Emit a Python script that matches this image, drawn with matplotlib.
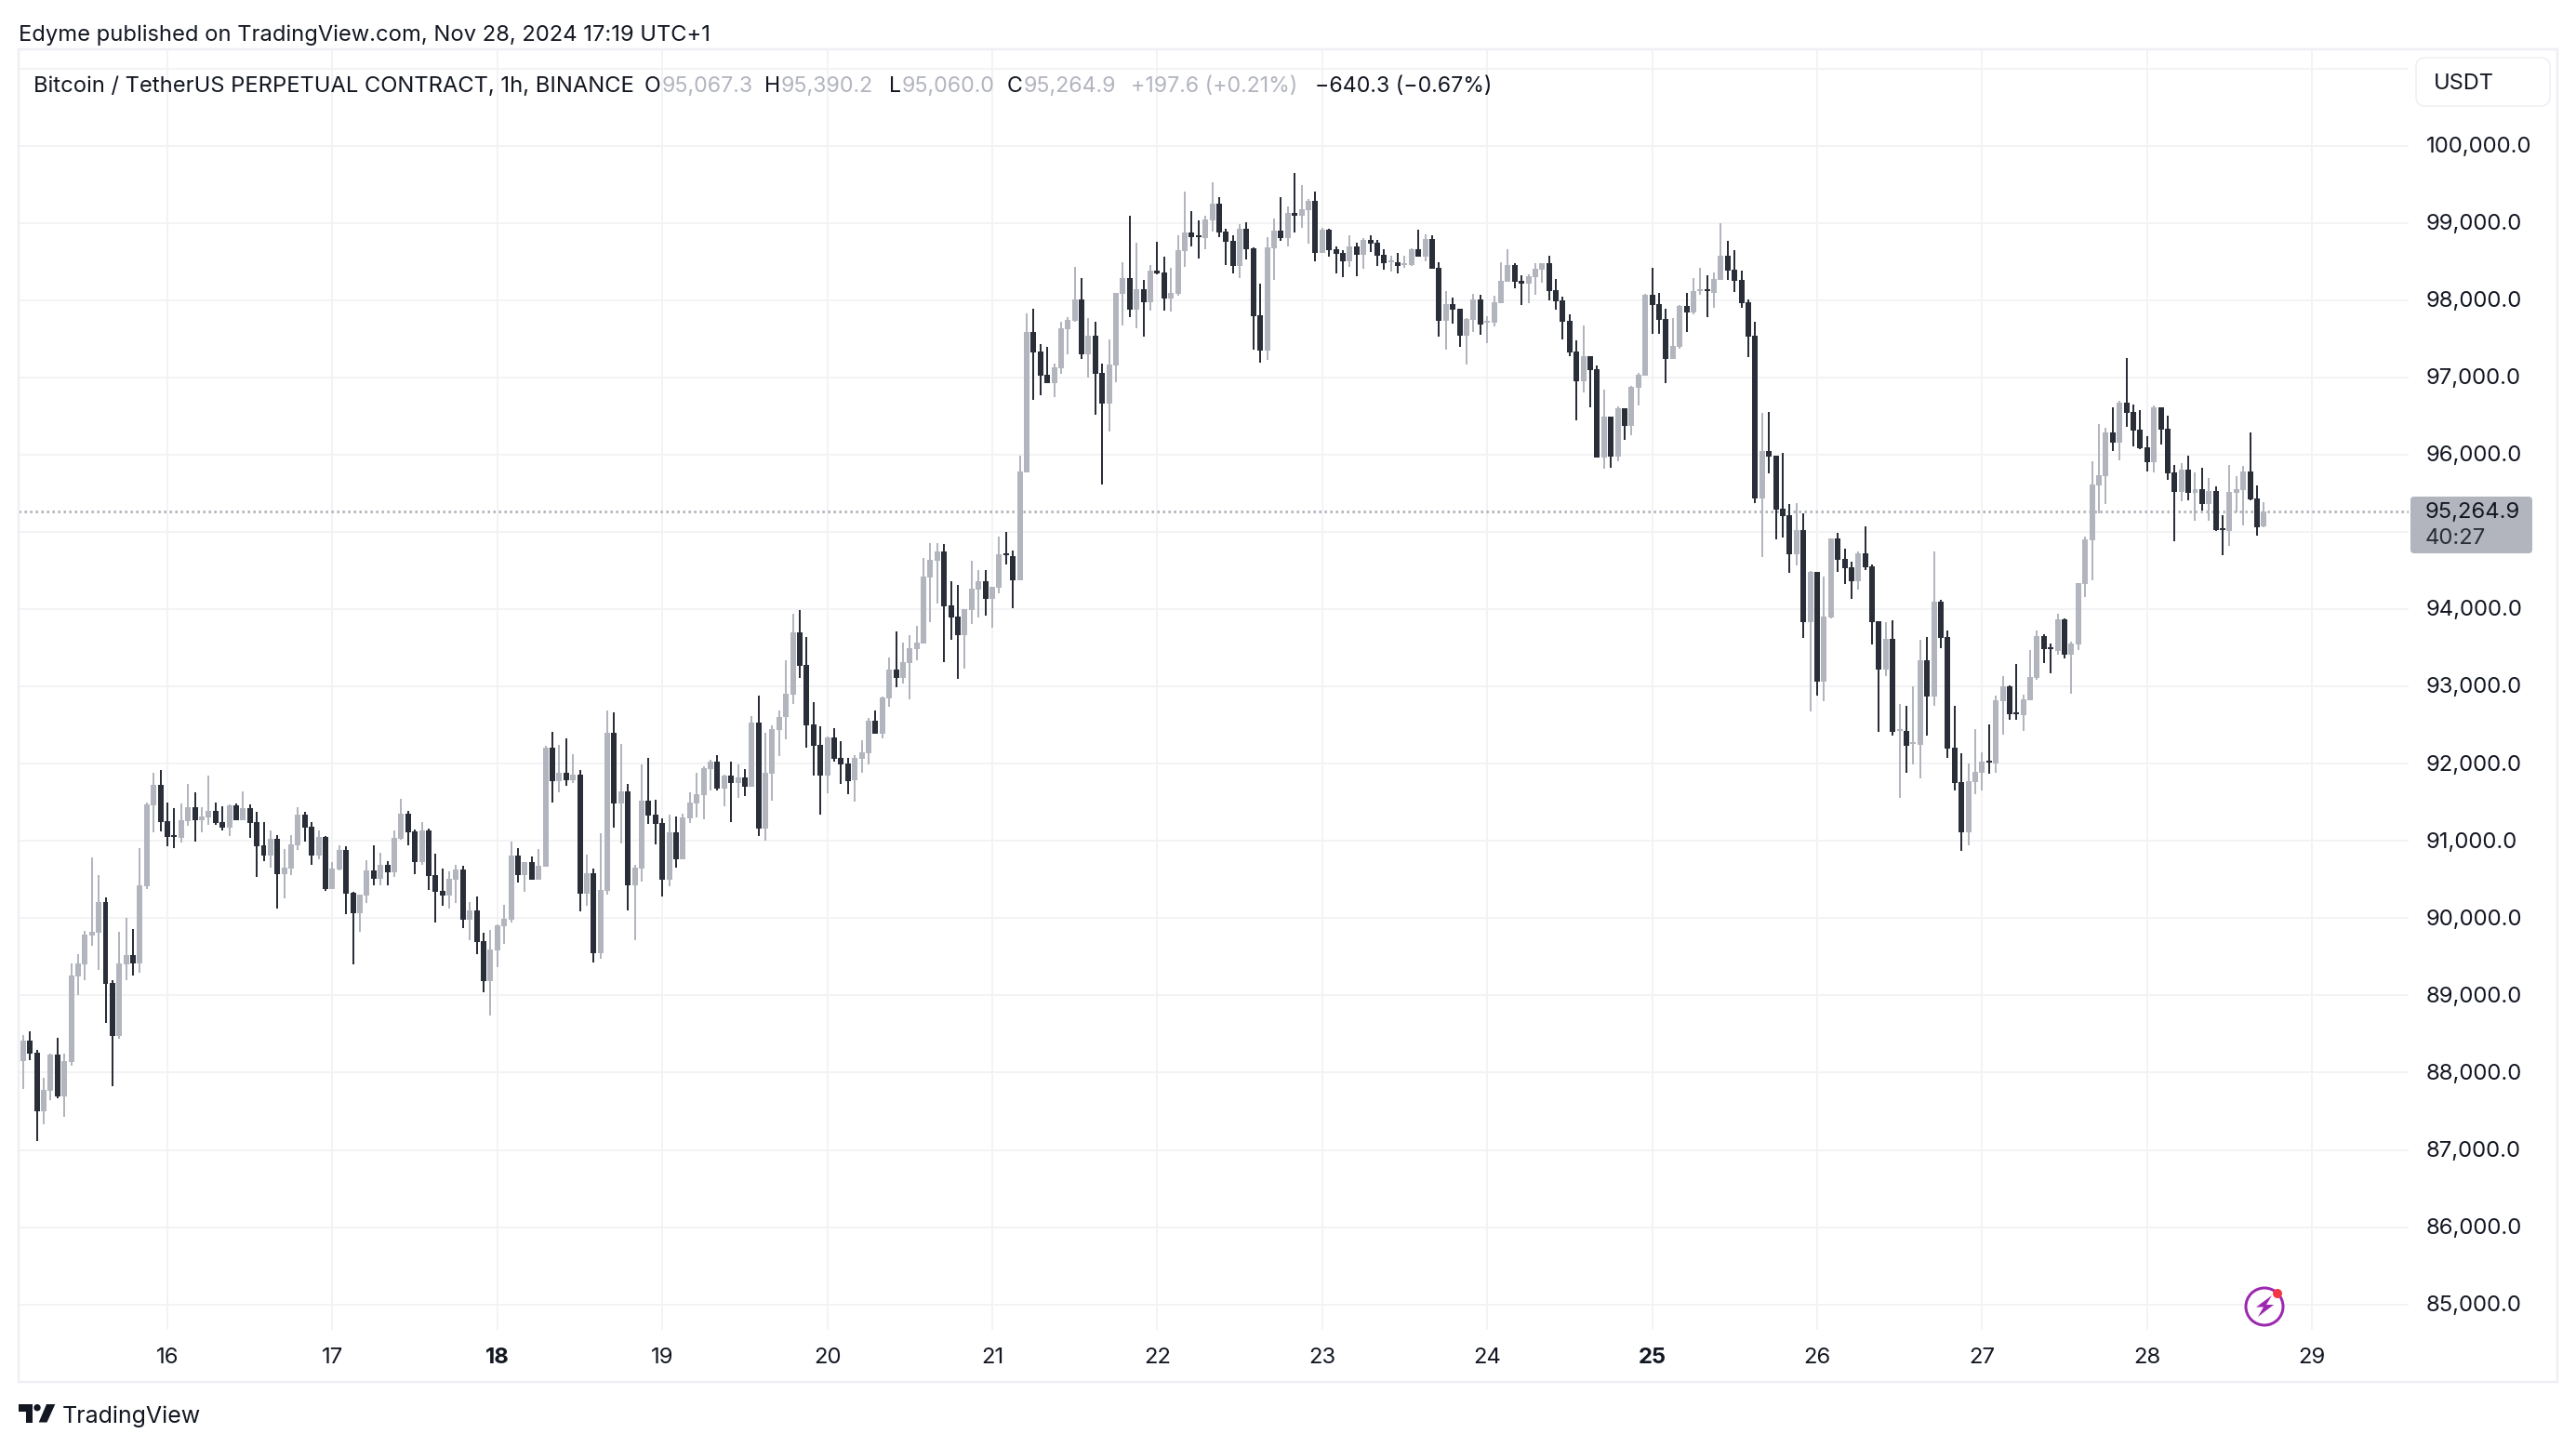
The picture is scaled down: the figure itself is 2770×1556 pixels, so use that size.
"""
BTCUSDT 1h candles, TradingView snapshot look.
All prices read by eye from the picture. First candle is 21 hours before the 16th.
"""
import matplotlib
matplotlib.use("Agg")
import matplotlib.pyplot as plt
import numpy as np
from matplotlib.patches import Circle, FancyBboxPatch, Polygon, Rectangle
from matplotlib.transforms import Affine2D

FIRST_HOUR = -21

opens = [
    88150, 88411, 88254, 87497, 87761, 88230, 87689, 88134, 89241, 89397, 89770, 89806, 90203, 89157, 88471, 89397, 89518, 89409, 90408, 91466, 91731,
    91262, 91081, 91045, 91262, 91442, 91274, 91310, 91394, 91238, 91166, 91466, 91274, 91430, 91238, 90949, 90805, 91033, 90564, 90648, 90949, 91346, 91178, 90805, 91057,
    90372, 90636, 90877, 90324, 90059, 90287, 90624, 90504, 90696, 90588, 91033, 91358, 91129, 90732, 91141, 90552, 90359, 90287, 90492, 90636, 89974, 90095, 89698, 89181,
    89577, 89890, 89974, 90805, 90552, 90732, 90492, 90672, 92212, 91779, 91887, 91791, 91863, 90323, 90576, 89541, 90359, 92405, 91490, 91647, 90420, 90648, 91526, 91346,
    91226, 90492, 91117, 90768, 91298, 91490, 91599, 91935, 92032, 91683, 91851, 91755, 91827, 91707, 92537, 91165, 91875, 92441, 92602, 92890, 93696, 93275, 92505, 92241,
    91844, 92337, 92072, 92000, 91784, 92060, 92132, 92554, 92385, 92842, 93215, 93107, 93299, 93480, 93552, 94406, 94623, 94743, 94045, 93901, 93660, 93985, 94250, 94358,
    94129, 94274, 94719, 94683, 94370, 95776, 97592, 97340, 97039, 96931, 97123, 97628, 97737, 98013, 97304, 97544, 97063, 96666, 97159, 98086, 98290, 97881, 98146, 97977,
    98386, 98362, 98025, 98086, 98639, 98880, 98843, 98807, 99036, 99253, 98892, 98771, 98447, 98928, 98675, 97809, 97352, 98675, 98904, 98807, 99132, 99096, 99168, 99289,
    98615, 98916, 98663, 98615, 98507, 98699, 98591, 98783, 98747, 98591, 98487, 98495, 98459, 98459, 98664, 98567, 98796, 98423, 97737, 97954, 97894, 97545, 97749, 98014,
    97713, 97713, 97966, 98242, 98459, 98255, 98218, 98303, 98399, 98483, 98134, 98002, 97737, 97340, 96955, 97280, 97112, 95969, 96498, 95981, 96606, 96378, 96871, 97028,
    98074, 97954, 97761, 97244, 97400, 97930, 97846, 98122, 98146, 98098, 98267, 98579, 98399, 98267, 97978, 97545, 95434, 96048, 95988, 95302, 95218, 94712, 95025, 93834,
    94484, 93064, 93894, 94917, 94652, 94544, 94364, 94725, 94556, 93846, 93221, 93618, 92419, 92427, 92250, 92246, 93341, 92872, 94099, 93642, 92210, 91765, 91116, 91765,
    91885, 92042, 92006, 92812, 93004, 92667, 92631, 92824, 93113, 93654, 93509, 93461, 93870, 93413, 93546, 94328, 94895, 95604, 95725, 96290, 96158, 96675, 96555, 96326,
    96098, 95905, 96615, 96338, 95773, 95520, 95809, 95508, 95556, 95364, 95532, 95051, 95015, 95508, 95544, 95785, 95436, 95067.3,
]

highs = [
    88491, 88539, 88290, 87930, 88242, 88447, 88242, 89409, 89530, 89830, 90781, 90552, 90263, 89193, 89818, 90000, 89854, 90901, 91502, 91887, 91924,
    91502, 91430, 91490, 91743, 91635, 91442, 91851, 91502, 91454, 91478, 91490, 91647, 91478, 91382, 91250, 91130, 91081, 90889, 91081, 91442, 91382, 91250, 91130, 91069,
    90721, 90949, 90937, 90336, 90300, 90745, 90949, 90841, 90733, 91130, 91539, 91394, 91153, 91250, 91165, 90829, 90648, 90600, 90696, 90684, 90203, 90275, 89806, 89842,
    89914, 90167, 90997, 90901, 90732, 90793, 90889, 92236, 92417, 92248, 92332, 92128, 91923, 90817, 90648, 91105, 92693, 92669, 92260, 91743, 90696, 91995, 92080, 91538,
    91298, 91346, 91322, 91358, 91635, 91887, 91971, 92056, 92116, 91863, 92032, 91995, 91935, 92621, 92886, 92405, 92501, 92693, 93335, 93937, 93985, 93636, 92794, 92481,
    92349, 92457, 92289, 92072, 92108, 92301, 92590, 92686, 92866, 93372, 93708, 93564, 93660, 93781, 94659, 94851, 94851, 94839, 94358, 94310, 93997, 94623, 94502, 94502,
    94286, 94935, 94996, 94755, 95992, 97833, 97893, 97436, 97400, 97183, 97725, 97785, 98434, 98290, 97773, 97725, 97183, 97496, 98098, 98495, 99096, 98747, 98266, 98459,
    98759, 98567, 98422, 98843, 99409, 99156, 99036, 99096, 99529, 99337, 98928, 98843, 98988, 99012, 98687, 98218, 98819, 99060, 99337, 99216, 99650, 99493, 99313, 99409,
    98940, 98928, 98699, 98651, 98843, 98747, 98807, 98843, 98783, 98664, 98579, 98615, 98579, 98676, 98916, 98856, 98844, 98495, 98122, 98038, 97894, 97773, 98086, 98074,
    97797, 98062, 98495, 98664, 98483, 98327, 98339, 98483, 98483, 98579, 98279, 98050, 97821, 97485, 97677, 97280, 97160, 96847, 96498, 96630, 96606, 96895, 97064, 98086,
    98423, 98098, 97894, 97773, 97942, 98098, 98291, 98423, 98327, 98363, 99000, 98772, 98652, 98387, 98014, 97725, 96546, 96553, 95988, 96024, 95362, 95374, 95242, 94496,
    94484, 94424, 94917, 94989, 94785, 94616, 94749, 95073, 94580, 93846, 93834, 93858, 92776, 92752, 93004, 93606, 93642, 94749, 94123, 93726, 92752, 92138, 92006, 92451,
    92150, 92511, 92884, 93137, 93016, 93293, 92896, 93473, 93726, 93678, 93558, 93943, 93882, 93582, 94340, 94941, 95917, 96398, 96350, 96615, 96699, 97253, 96651, 96579,
    96242, 96639, 96615, 96507, 95869, 95893, 95989, 95773, 95833, 95701, 95592, 95219, 95869, 95725, 95857, 96290, 95604, 95390.2,
]

lows = [
    87789, 88162, 87116, 87332, 87641, 87665, 87424, 88090, 89000, 89193, 89638, 89325, 88639, 87825, 88435, 89193, 89253, 89289, 90372, 91106, 91118,
    90925, 90901, 90985, 91190, 90997, 91106, 91202, 91202, 91130, 91069, 91274, 91274, 91045, 90528, 90733, 90660, 90119, 90251, 90552, 90877, 90997, 90696, 90757, 90348,
    90372, 90624, 90047, 89397, 89818, 90191, 90420, 90420, 90420, 90528, 91021, 90949, 90564, 90696, 90371, 89938, 90155, 90119, 90191, 89866, 89710, 89529, 89036, 88735,
    89361, 89662, 89938, 90456, 90347, 90492, 90492, 90672, 91502, 91635, 91719, 91755, 90083, 90155, 89421, 89469, 90299, 91177, 90973, 90095, 89710, 90468, 91214, 90961,
    90275, 90408, 90660, 90768, 91226, 91310, 91286, 91659, 91659, 91454, 91250, 91562, 91587, 91707, 91069, 91009, 91526, 92104, 92313, 92770, 93107, 92205, 91844, 91338,
    91615, 92024, 91735, 91603, 91507, 91880, 91988, 92385, 92325, 92734, 92987, 93035, 92830, 93335, 93552, 93829, 94069, 93311, 93600, 93095, 93227, 93805, 93889, 93913,
    93757, 94202, 94575, 94009, 94370, 95776, 96714, 96774, 96931, 96750, 97051, 97304, 97725, 97244, 97003, 96522, 95619, 96305, 96943, 97677, 97785, 97641, 97532, 97869,
    98338, 97869, 97857, 98062, 98434, 98699, 98543, 98663, 98892, 98819, 98459, 98350, 98290, 98531, 97364, 97195, 97231, 98266, 98771, 98699, 98880, 98940, 98735, 98507,
    98615, 98567, 98350, 98302, 98434, 98314, 98410, 98627, 98447, 98399, 98375, 98351, 98423, 98447, 98567, 98507, 98411, 97533, 97364, 97701, 97400, 97172, 97593, 97557,
    97449, 97665, 97966, 98242, 98158, 97942, 97966, 98074, 98230, 98002, 97882, 97497, 97280, 96450, 96811, 96618, 95969, 95824, 95836, 95909, 96197, 96258, 96643, 97028,
    97569, 97569, 96931, 97244, 97376, 97593, 97821, 98074, 97785, 97906, 98267, 98267, 98110, 97906, 97268, 95374, 94676, 95759, 94905, 94929, 94472, 94568, 93630, 92679,
    92884, 92812, 93882, 94484, 94328, 94135, 94255, 94508, 93546, 92415, 93137, 92367, 91561, 91885, 91994, 91813, 92367, 92752, 93497, 92078, 91657, 90875, 90947, 91609,
    91657, 91873, 91885, 92379, 92571, 92571, 92427, 92824, 93088, 93305, 93173, 93413, 93365, 92908, 93473, 94159, 94377, 95244, 95364, 96050, 95929, 96362, 96110, 96074,
    95785, 95773, 96134, 95677, 94883, 95400, 95412, 95147, 95280, 95147, 95015, 94702, 94822, 95255, 95087, 95412, 94955, 95060.0,
]

closes = [
    88411, 88242, 87497, 87773, 88230, 87689, 88146, 89253, 89409, 89782, 89818, 90203, 89145, 88471, 89409, 89518, 89409, 90420, 91478, 91731, 91250,
    91057, 91057, 91274, 91442, 91274, 91322, 91394, 91226, 91166, 91466, 91274, 91430, 91226, 90937, 90805, 91033, 90564, 90660, 90961, 91346, 91166, 90805, 91057, 90372,
    90648, 90877, 90312, 90059, 90300, 90624, 90504, 90696, 90588, 91045, 91358, 91117, 90732, 91141, 90540, 90347, 90287, 90504, 90636, 89974, 90095, 89686, 89181, 89590,
    89902, 89987, 90805, 90552, 90732, 90492, 90684, 92212, 91779, 91887, 91791, 91863, 90323, 90576, 89541, 90371, 92405, 91490, 91647, 90420, 90660, 91526, 91334, 91214,
    90492, 91117, 90768, 91310, 91502, 91611, 91947, 92032, 91683, 91851, 91755, 91827, 91707, 92537, 91165, 91887, 92453, 92609, 92902, 93696, 93263, 92493, 92229, 91844,
    92337, 92060, 91988, 91772, 92072, 92144, 92554, 92385, 92854, 93215, 93107, 93311, 93492, 93564, 94418, 94635, 94743, 94033, 93889, 93660, 93997, 94262, 94358, 94129,
    94286, 94707, 94695, 94370, 95788, 97592, 97328, 97027, 96931, 97135, 97641, 97749, 98013, 97304, 97544, 97051, 96666, 97171, 98098, 98290, 97881, 98146, 97977, 98386,
    98350, 98025, 98098, 98651, 98880, 98819, 98819, 99048, 99253, 98880, 98759, 98447, 98928, 98663, 97797, 97352, 98687, 98904, 98807, 99132, 99096, 99180, 99289, 98615,
    98916, 98651, 98603, 98507, 98699, 98591, 98783, 98735, 98579, 98483, 98507, 98447, 98483, 98664, 98567, 98796, 98411, 97737, 97954, 97882, 97545, 97761, 98014, 97689,
    97737, 97978, 98255, 98459, 98242, 98218, 98315, 98411, 98483, 98122, 97990, 97725, 97328, 96955, 97280, 97100, 95969, 96498, 95981, 96606, 96378, 96883, 97040, 98074,
    97942, 97749, 97244, 97412, 97930, 97846, 98122, 98146, 98122, 98279, 98579, 98387, 98255, 97966, 97533, 95434, 96048, 95976, 95290, 95206, 94712, 95025, 93834, 94484,
    93064, 93906, 94917, 94640, 94532, 94364, 94725, 94544, 93834, 93221, 93618, 92415, 92439, 92234, 92270, 93341, 92872, 94099, 93630, 92198, 91753, 91116, 91777, 91897,
    92030, 92018, 92824, 93004, 92643, 92643, 92836, 93125, 93654, 93485, 93485, 93870, 93413, 93558, 94340, 94905, 95616, 95737, 96290, 96158, 96675, 96543, 96314, 96086,
    95905, 96615, 96326, 95761, 95520, 95809, 95508, 95556, 95364, 95532, 95027, 95027, 95520, 95556, 95785, 95424, 95063, 95264.9,
]

day_labels = ["16", "17", "18", "19", "20", "21", "22", "23", "24", "25", "26", "27", "28", "29"]
bold_days = ["18", "25"]
price_ticks = [85000, 86000, 87000, 88000, 89000, 90000, 91000, 92000, 93000, 94000,
               95000, 96000, 97000, 98000, 99000, 100000]
extra_grid_price = 101000
last_price = 95264.9

W, H = 2770, 1556
TEXT = "#131722"
GRID = "#F3F3F5"
FRAME = "#EFEFF4"
GREY = "#B2B5BE"
DARK = "#2A2E39"
PX = 0.72  # 1 pixel in points at dpi 100

plt.rcParams["font.family"] = ["Inter", "DejaVu Sans"]

fig = plt.figure(figsize=(W / 100, H / 100), dpi=100, facecolor="white")

# price pane, pixel box 20..2590 x 53..1430
ax = fig.add_axes([20 / W, 1 - 1430 / H, 2570 / W, 1377 / H])
ax.set_xlim(-21.65, 326.05)
ax.set_ylim(84671, 101248)
for s in ax.spines.values():
    s.set_visible(False)

o = np.array(opens)
c = np.array(closes)
hi = np.array(highs)
lo = np.array(lows)
hours = np.arange(FIRST_HOUR, FIRST_HOUR + len(o))
up = c >= o
colors = np.where(up, GREY, DARK)

day_hours = np.arange(len(day_labels)) * 24
ax.set_xticks(day_hours)
ax.set_xticklabels(day_labels, fontsize=17.2, color=TEXT)
for lab in ax.get_xticklabels():
    if lab.get_text() in bold_days:
        lab.set_fontweight("bold")
ax.yaxis.tick_right()
ax.set_yticks(price_ticks)
ax.set_yticklabels([f"{p:,.1f}" for p in price_ticks], fontsize=17.2, color=TEXT)
ax.tick_params(axis="both", length=0)
ax.tick_params(axis="x", pad=14)
ax.tick_params(axis="y", pad=13.5)
# labels sit about a pixel high of the grid line
for tick in ax.yaxis.get_major_ticks():
    tick.label2.set_transform(tick.label2.get_transform() + Affine2D().translate(0, 1.2))

ax.grid(True, color=GRID, linewidth=2 * PX, zorder=0)
ax.set_axisbelow(True)
ax.axhline(extra_grid_price, color=GRID, linewidth=2 * PX, zorder=0)

ax.axhline(last_price, color=GREY, linewidth=3 * PX, linestyle=(0, (0.8, 1.2)), zorder=1)

# wicks then bodies, doji still get a 2px body
ax.vlines(hours, lo, hi, colors=colors, linewidth=2 * PX, zorder=2)
body_low = np.minimum(o, c)
body_h = np.maximum(np.abs(c - o), 24)
ax.bar(hours, body_h, bottom=body_low, width=0.81, color=colors, linewidth=0, zorder=3)

# everything around the pane sits on a pixel overlay
ov = fig.add_axes([0, 0, 1, 1], facecolor="none", zorder=5)
ov.set_xlim(0, W)
ov.set_ylim(H, 0)
ov.axis("off")

ov.add_patch(Rectangle((20, 53), 2730, 1433, fill=False, edgecolor=FRAME, linewidth=2.5 * PX))

ov.text(20, 38, "Edyme published on TradingView.com, Nov 28, 2024 17:19 UTC+1",
        fontsize=17.1, color=TEXT, va="center", ha="left")

ov.text(36, 92.5, "Bitcoin / TetherUS PERPETUAL CONTRACT, 1h, BINANCE",
        fontsize=17.1, color=TEXT, va="center", ha="left")
legend_parts = [
    (693, "O", TEXT), (712, "95,067.3", GREY),
    (822, "H", TEXT), (840, "95,390.2", GREY),
    (956, "L", TEXT), (970, "95,060.0", GREY),
    (1083, "C", TEXT), (1101, "95,264.9", GREY),
    (1216, "+197.6 (+0.21%)", GREY),
    (1414, "\u2212640.3 (\u22120.67%)", TEXT),
]
for x, s, col in legend_parts:
    ov.text(x, 92.5, s, fontsize=16.7, color=col, va="center", ha="left")

# currency button
ov.add_patch(FancyBboxPatch((2606, 70), 128, 36, boxstyle="round,pad=8,rounding_size=10",
                            facecolor="white", edgecolor=FRAME, linewidth=1.5 * PX))
ov.text(2617, 89.5, "USDT", fontsize=17, color=TEXT, va="center", ha="left")

# last price tag
ov.add_patch(FancyBboxPatch((2595, 537), 125, 55, boxstyle="round,pad=3,rounding_size=4",
                            facecolor=GREY, edgecolor="none"))
ov.text(2608, 550.5, "95,264.9", fontsize=17.2, color=TEXT, va="center", ha="left")
ov.text(2608, 579, "40:27", fontsize=17.2, color=DARK, va="center", ha="left")

# lightning badge
ov.add_patch(Circle((2435, 1405), 20, facecolor="white", edgecolor="#9C27B0", linewidth=3 * PX))
ov.add_patch(Polygon([(2443, 1393), (2426, 1405.5), (2434, 1405.5), (2428, 1416), (2445, 1403), (2437, 1403)],
                     closed=True, facecolor="#9C27B0", edgecolor="none"))
ov.add_patch(Circle((2449, 1391), 5, facecolor="#F23645", edgecolor="none"))

# TradingView mark
ov.add_patch(Polygon([(20, 1510), (35, 1510), (35, 1529.5), (27.5, 1529.5), (27.5, 1517.5), (20, 1517.5)],
                     closed=True, facecolor=TEXT, edgecolor="none"))
ov.add_patch(Circle((40, 1513.7), 3.7, facecolor=TEXT, edgecolor="none"))
ov.add_patch(Polygon([(59.3, 1510), (50, 1510), (41.7, 1529.5), (50.5, 1529.5)],
                     closed=True, facecolor=TEXT, edgecolor="none"))
ov.text(67, 1523, "TradingView", fontsize=18, color=TEXT, va="center", ha="left")

fig.savefig("out.png", dpi=100, facecolor="white")
